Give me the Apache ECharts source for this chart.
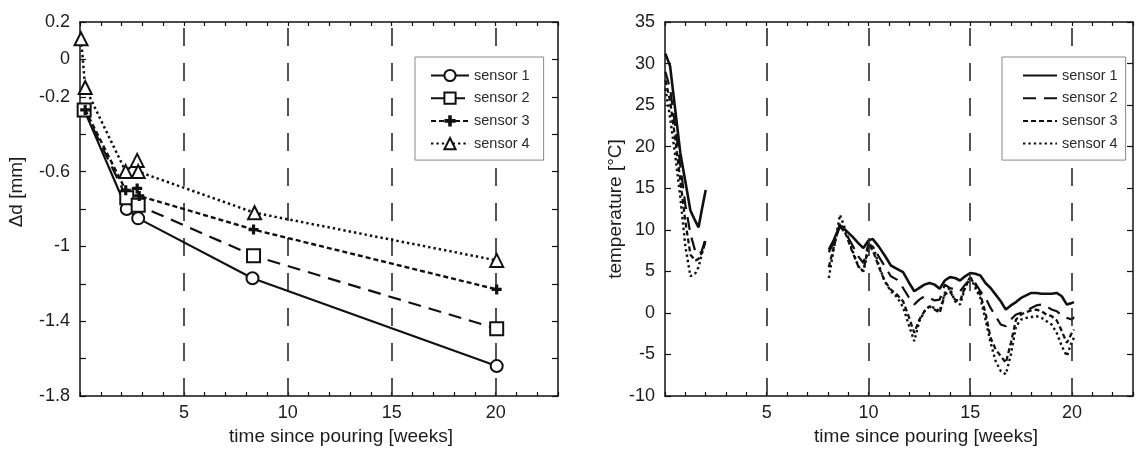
<!DOCTYPE html>
<html><head><meta charset="utf-8">
<script src="https://cdn.jsdelivr.net/npm/echarts@6/dist/echarts.min.js"></script>
<style>html,body{margin:0;padding:0;background:#fff}#c{width:1136px;height:452px}</style>
</head><body><div id="c"></div>
<script>
// ---------- data: left panel (settlement) ----------
const weeksS1 = [0.2, 2.25, 2.8, 8.3, 20.05];
const dS1 = [-0.27, -0.80, -0.85, -1.17, -1.64];
const weeksS2 = [0.2, 2.25, 2.8, 8.35, 20.05];
const dS2 = [-0.27, -0.74, -0.78, -1.05, -1.44];
const weeksS3 = [0.25, 2.2, 2.75, 2.85, 8.35, 20.05];
const dS3 = [-0.27, -0.70, -0.69, -0.73, -0.91, -1.23];
const weeksS4 = [0.05, 0.25, 2.2, 2.75, 2.8, 8.4, 20.05];
const dS4 = [0.11, -0.15, -0.60, -0.54, -0.60, -0.82, -1.075];
const dTickLabels = [0.2, 0, -0.2, -0.6, -1, -1.4, -1.8];
const weekTickLabels = [5, 10, 15, 20];
const dashedWeeks = [5, 10, 15, 20];

// ---------- data: right panel (temperature) ----------
const tWeeksA = [0.02, 0.25, 0.5, 0.75, 1.0, 1.25, 1.5, 1.65, 1.8, 2.0];
const tempA1 = [31.2, 29.7, 24.5, 19.3, 15.8, 12.3, 11.0, 10.3, 12.3, 14.8];
const tempA2 = [29.0, 27.0, 22.5, 17.8, 13.0, 9.5, 7.3, 7.0, 7.4, 9.0];
const tempA3 = [28.0, 25.5, 21.0, 16.0, 11.0, 7.0, 6.3, 6.5, 7.2, 8.6];
const tempA4 = [27.0, 23.5, 19.0, 14.0, 8.0, 4.4, 4.8, 5.5, 7.0, 8.8];

const tWeeksB = [8.05, 8.3, 8.6, 8.9, 9.2, 9.5, 9.75, 10.0, 10.2, 10.5, 10.8, 11.1, 11.4, 11.7, 12.0, 12.25, 12.5, 12.75, 13.0, 13.25, 13.5, 13.75, 14.0, 14.25, 14.5, 14.75, 15.0, 15.25, 15.5, 15.75, 16.0, 16.25, 16.5, 16.75, 17.0, 17.25, 17.5, 17.75, 18.0, 18.25, 18.5, 18.75, 19.0, 19.25, 19.5, 19.75, 20.0, 20.1];
const tempB1 = [7.6, 8.8, 10.5, 9.9, 9.2, 8.4, 7.8, 8.7, 8.9, 8.0, 6.9, 5.7, 5.3, 4.9, 3.6, 2.6, 3.0, 3.4, 3.6, 3.4, 2.9, 3.9, 4.3, 4.2, 3.9, 4.4, 4.8, 4.7, 4.5, 3.6, 3.0, 2.2, 1.4, 0.4, 0.9, 1.3, 1.8, 2.1, 2.4, 2.4, 2.3, 2.3, 2.3, 2.4, 2.0, 1.0, 1.2, 1.3];
const tempB2 = [7.3, 8.5, 10.4, 9.5, 8.2, 6.8, 6.0, 8.3, 8.0, 6.8, 5.6, 4.4, 4.0, 3.0, 1.8, 1.0, 1.6, 2.0, 1.8, 1.5, 1.6, 3.4, 3.0, 2.8, 2.6, 3.4, 4.0, 3.6, 2.6, 1.8, 0.6, -0.4, -1.4, -1.6, -0.8, -0.2, 0.0, 0.2, 0.6, 0.9, 1.0, 0.8, 0.4, 0.2, -0.3, -0.6, -0.8, -0.5];
const tempB3 = [5.5, 8.0, 10.8, 9.4, 7.4, 5.6, 5.0, 8.2, 7.6, 5.6, 3.8, 2.8, 2.2, 1.4, -0.6, -2.4, -0.8, 0.2, 0.8, 0.4, 0.0, 2.2, 2.6, 1.6, 1.4, 3.2, 4.2, 3.4, 2.2, 0.0, -3.0, -4.4, -5.2, -6.0, -3.6, -0.8, -0.2, 0.1, 0.3, 0.4, 0.2, -0.2, -0.4, -0.9, -2.2, -3.6, -2.4, -2.0];
const tempB4 = [4.2, 7.8, 11.8, 9.8, 7.6, 5.6, 5.0, 7.6, 8.2, 5.8, 3.8, 2.6, 1.9, 0.7, -1.6, -3.4, -1.0, 0.2, 0.8, 0.6, 0.2, 2.4, 3.0, 1.4, 1.0, 3.0, 4.4, 3.0, 1.8, -0.8, -3.6, -5.8, -7.0, -7.4, -5.0, -1.6, -0.8, -0.6, -0.5, -0.4, -0.6, -1.0, -1.4, -2.4, -4.0, -5.2, -3.4, -3.0];

const sensorNames = ['sensor 1', 'sensor 2', 'sensor 3', 'sensor 4'];

// ---------- styling ----------
const FONT = '"Liberation Sans", Arial, Helvetica, sans-serif';
const INK = '#111';
const zip = (xs, ys) => xs.map((x, i) => [x, ys[i]]);
const PLUS = 'path://M3.4,0h3.2v3.4h3.4v3.2h-3.4v3.4h-3.2v-3.4h-3.4v-3.2h3.4z';

function xAx(grid, pos, title, padLeft) {
  const a = {
    type: 'value', gridIndex: grid, position: pos, min: 0, max: 23, interval: 1,
    axisLine: { show: true, onZero: false, lineStyle: { color: INK, width: 1.5 } },
    axisTick: { show: true, inside: true, length: 4, lineStyle: { color: INK, width: 1.2 } },
    splitLine: { show: false },
    axisLabel: { show: pos === 'bottom', margin: 8, fontSize: 18, color: '#1c1c1c', fontFamily: FONT,
      formatter: v => weekTickLabels.includes(v) ? String(v) : '' }
  };
  if (title) {
    a.name = title; a.nameLocation = 'middle'; a.nameGap = 30;
    a.nameTextStyle = { fontSize: 19, color: '#1c1c1c', fontFamily: FONT, padding: [0, 0, 0, padLeft] };
  }
  return a;
}
function yAx(grid, pos, min, max, interval, fmt, title, gap, padLeft) {
  const a = {
    type: 'value', gridIndex: grid, position: pos, min: min, max: max, interval: interval,
    axisLine: { show: true, onZero: false, lineStyle: { color: INK, width: 1.5 } },
    axisTick: { show: true, inside: true, length: 6, lineStyle: { color: INK, width: 1.2 } },
    splitLine: { show: false },
    axisLabel: { show: pos === 'left', margin: 10, fontSize: 18, color: '#1c1c1c', fontFamily: FONT, formatter: fmt }
  };
  if (title) {
    a.name = title; a.nameLocation = 'middle'; a.nameGap = gap;
    a.nameTextStyle = { fontSize: 19, color: '#1c1c1c', fontFamily: FONT, padding: [0, 0, 0, padLeft] };
  }
  return a;
}

const dashMark = {
  silent: true, symbol: ['none', 'none'], animation: false,
  label: { show: false }, emphasis: { disabled: true },
  lineStyle: { color: '#2a2a2a', width: 1.6, type: [18, 17] },
  data: dashedWeeks.map(w => ({ xAxis: w }))
};

const openItem = { color: '#fff', borderColor: INK, borderWidth: 2 };
function leftSeries(name, xs, ys, symbol, size, item, lineType, width, z) {
  return {
    type: 'line', name: name, xAxisIndex: 0, yAxisIndex: 0, data: zip(xs, ys),
    symbol: symbol, symbolSize: size, showSymbol: true, itemStyle: item,
    lineStyle: { color: INK, width: width, type: lineType }, z: z, animation: false
  };
}
function rightSeries(name, xs, ys, lineType, width) {
  return {
    type: 'line', name: 'T ' + name, xAxisIndex: 2, yAxisIndex: 2, data: zip(xs, ys),
    symbol: 'none', itemStyle: { color: INK },
    lineStyle: { color: INK, width: width, type: lineType }, animation: false
  };
}

const dFmt = v => { const r = Math.round(v * 10) / 10; return dTickLabels.includes(r) ? String(r) : ''; };

const s1 = leftSeries(sensorNames[0], weeksS1, dS1, 'circle', 12, openItem, 'solid', 2.2, 5);
s1.markLine = dashMark;
const r1a = rightSeries(sensorNames[0], tWeeksA, tempA1, 'solid', 2.6);
r1a.markLine = dashMark;

const option = {
  animation: false,
  backgroundColor: '#fff',
  grid: [
    { left: 80, top: 22, width: 478, height: 374 },
    { left: 665, top: 22, width: 478, height: 374 }
  ],
  legend: [
    {
      data: sensorNames, orient: 'vertical', left: 415, top: 57,
      itemWidth: 38, itemHeight: 14, itemGap: 7.7, padding: [11, 14, 9, 15],
      borderColor: '#8a8a8a', borderWidth: 1, backgroundColor: '#fff',
      textStyle: { fontSize: 14.5, color: '#2a2a2a', fontFamily: FONT },
      selectedMode: false, z: 20
    },
    {
      data: sensorNames.map(n => 'T ' + n), orient: 'vertical', left: 1002, top: 57,
      itemWidth: 34, itemHeight: 14, itemGap: 7.7, padding: [11, 8, 9, 20],
      borderColor: '#8a8a8a', borderWidth: 1, backgroundColor: '#fff',
      formatter: n => n.replace('T ', ''),
      itemStyle: { color: 'rgba(0,0,0,0)', borderColor: 'rgba(0,0,0,0)', borderWidth: 0, opacity: 0 },
      textStyle: { fontSize: 14.5, color: '#2a2a2a', fontFamily: FONT },
      selectedMode: false, z: 20
    }
  ],
  xAxis: [
    xAx(0, 'bottom', 'time since pouring [weeks]', 44),
    xAx(0, 'top', null, 0),
    xAx(1, 'bottom', 'time since pouring [weeks]', 54),
    xAx(1, 'top', null, 0)
  ],
  yAxis: [
    yAx(0, 'left', -1.8, 0.2, 0.2, dFmt, 'Δd [mm]', 54, 34),
    yAx(0, 'right', -1.8, 0.2, 0.2, dFmt, null, 0, 0),
    yAx(1, 'left', -10, 35, 5, v => String(v), 'temperature [°C]', 40, 0),
    yAx(1, 'right', -10, 35, 5, v => String(v), null, 0, 0)
  ],
  series: [
    s1,
    leftSeries(sensorNames[1], weeksS2, dS2, 'rect', 13, openItem, [13, 8], 2.2, 5),
    leftSeries(sensorNames[2], weeksS3, dS3, PLUS, 10, { color: INK }, [5, 3], 2.4, 6),
    leftSeries(sensorNames[3], weeksS4, dS4, 'triangle', 13, openItem, [2.4, 3], 2.5, 5),
    r1a,
    rightSeries(sensorNames[0], tWeeksB, tempB1, 'solid', 2.6),
    rightSeries(sensorNames[1], tWeeksA, tempA2, [13, 8], 2.2),
    rightSeries(sensorNames[1], tWeeksB, tempB2, [13, 8], 2.2),
    rightSeries(sensorNames[2], tWeeksA, tempA3, [5, 3], 2.3),
    rightSeries(sensorNames[2], tWeeksB, tempB3, [5, 3], 2.3),
    rightSeries(sensorNames[3], tWeeksA, tempA4, [2.4, 3], 2.4),
    rightSeries(sensorNames[3], tWeeksB, tempB4, [2.4, 3], 2.4)
  ]
};
const chart = echarts.init(document.getElementById('c'));
chart.setOption(option);
</script></body></html>
